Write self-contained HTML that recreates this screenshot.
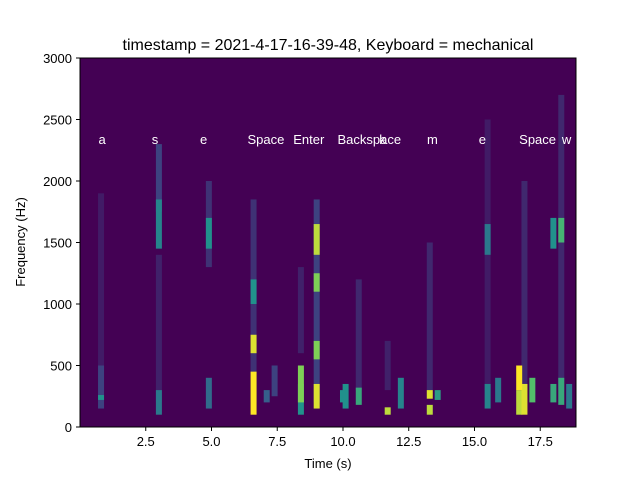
<!DOCTYPE html>
<html><head><meta charset="utf-8"><style>
body{margin:0;background:#fff}
svg text{font-family:"Liberation Sans","DejaVu Sans",sans-serif}
</style></head><body>
<svg id="chart" width="640" height="480" xmlns="http://www.w3.org/2000/svg">
<rect width="640" height="480" fill="#fff"/>
<text x="328" y="50" font-size="16" text-anchor="middle" fill="#000">timestamp = 2021-4-17-16-39-48, Keyboard = mechanical</text>
<rect x="80" y="58" width="496" height="369" fill="#440154"/>
<g id="marks"></g>
<g id="labels"></g>
<rect x="80" y="58" width="496" height="369" fill="none" stroke="#000" stroke-width="1"/>
<g id="xaxis"></g><g id="yaxis"></g>
<text x="328" y="468" font-size="13" text-anchor="middle">Time (s)</text>
<text transform="translate(25,242) rotate(-90)" font-size="13" text-anchor="middle">Frequency (Hz)</text>
</svg>
<script>
const burstTimes = [0.8,0.8,0.8, 3.0,3.0,3.0,3.0, 4.9,4.9,4.9, 6.6,6.6,6.6,6.6, 7.1,7.4, 8.4,8.4,8.4, 9.0,9.0,9.0,9.0,9.0, 10.0,10.1,10.6,10.6, 11.7,11.7,12.2, 13.3,13.3,13.3,13.6, 15.5,15.5,15.5,15.9, 16.7,16.7,16.9,16.9,17.2, 18.0,18.0,18.3,18.3,18.3,18.6];
const burstLow  = [200,150,220, 1450,1750,100,200, 1450,1300,150, 100,600,1000,200, 200,250, 100,200,600, 150,550,1100,1400,200, 200,150,180,300, 100,300,150, 100,230,300,220, 150,1400,300,200, 300,100,100,300,200, 200,1450,180,1500,300,150];
const burstHigh = [1900,500,260, 1850,2300,300,1400, 1700,2000,400, 450,750,1200,1850, 300,500, 350,500,1300, 350,700,1250,1650,1850, 300,350,320,1200, 160,700,400, 180,300,1500,300, 350,1650,2500,400, 500,300,350,2000,400, 350,1700,400,1700,2700,350];
const burstLevel= [0.08,0.2,0.5, 0.45,0.2,0.4,0.1, 0.5,0.15,0.35, 1.0,0.95,0.5,0.15, 0.3,0.2, 0.5,0.8,0.1, 0.95,0.8,0.8,0.9,0.2, 0.5,0.5,0.6,0.12, 0.9,0.1,0.45, 0.9,0.95,0.12,0.55, 0.45,0.4,0.08,0.4, 1.0,0.9,0.95,0.12,0.7, 0.6,0.5,0.6,0.65,0.12,0.4];
const keyNames = ["a","s","e","Space","Enter","Backspace","k","m","e","Space","w"];
const keyTimes = [0.84,2.85,4.7,7.07,8.7,11.0,11.5,13.4,15.3,17.4,18.5];
const xTicks = [2.5,5.0,7.5,10.0,12.5,15.0,17.5];
const yTicks = [0,500,1000,1500,2000,2500,3000];
const X0=80,X1=576,Y0=427,Y1=58,TMIN=0,TMAX=18.86,FMAX=3000;
const xs=t=>X0+(t-TMIN)/(TMAX-TMIN)*(X1-X0);
const ys=f=>Y0-f/FMAX*(Y0-Y1);
const vir=[[68,1,84],[59,82,139],[33,145,140],[94,201,98],[253,231,37]];
function cmap(v){v=Math.max(0,Math.min(1,v))*4;const i=Math.min(3,Math.floor(v)),f=v-i;const a=vir[i],b=vir[i+1];return`rgb(${a.map((c,k)=>Math.round(c+(b[k]-c)*f)).join(',')})`;}
const NS="http://www.w3.org/2000/svg";
const marks=document.getElementById('marks');
const order=burstTimes.map((_,i)=>i).sort((a,b)=>burstLevel[a]-burstLevel[b]);
order.forEach(i=>{
  const t=burstTimes[i];
  const r=document.createElementNS(NS,'rect');
  
  
  const w=6;
  r.setAttribute('x',xs(t)-w/2);r.setAttribute('width',w);
  r.setAttribute('y',ys(burstHigh[i]));r.setAttribute('height',ys(burstLow[i])-ys(burstHigh[i]));
  r.setAttribute('fill',cmap(burstLevel[i]));
  marks.appendChild(r);
});
const lab=document.getElementById('labels');
keyNames.forEach((k,i)=>{
  const tx=document.createElementNS(NS,'text');
  
  
  tx.setAttribute('x',xs(keyTimes[i]));tx.setAttribute('y',144);
  tx.setAttribute('font-size','13');tx.setAttribute('fill','#fff');tx.setAttribute('text-anchor','middle');
  tx.textContent=k;lab.appendChild(tx);
});
const xa=document.getElementById('xaxis');
xTicks.forEach(v=>{
  const x=xs(v);
  const l=document.createElementNS(NS,'line');
  
  
  l.setAttribute('x1',x);l.setAttribute('x2',x);l.setAttribute('y1',427);l.setAttribute('y2',431);l.setAttribute('stroke','#000');
  xa.appendChild(l);
  const tx=document.createElementNS(NS,'text');
  
  
  tx.setAttribute('x',x);tx.setAttribute('y',446);tx.setAttribute('font-size','13');tx.setAttribute('text-anchor','middle');
  tx.textContent=v.toFixed(1);xa.appendChild(tx);
});
const ya=document.getElementById('yaxis');
yTicks.forEach(v=>{
  const y=ys(v);
  const l=document.createElementNS(NS,'line');
  
  
  l.setAttribute('x1',76);l.setAttribute('x2',80);l.setAttribute('y1',y);l.setAttribute('y2',y);l.setAttribute('stroke','#000');
  ya.appendChild(l);
  const tx=document.createElementNS(NS,'text');
  
  
  tx.setAttribute('x',72);tx.setAttribute('y',y+5);tx.setAttribute('font-size','13');tx.setAttribute('text-anchor','end');
  tx.textContent=v;ya.appendChild(tx);
});
</script>
</body></html>
